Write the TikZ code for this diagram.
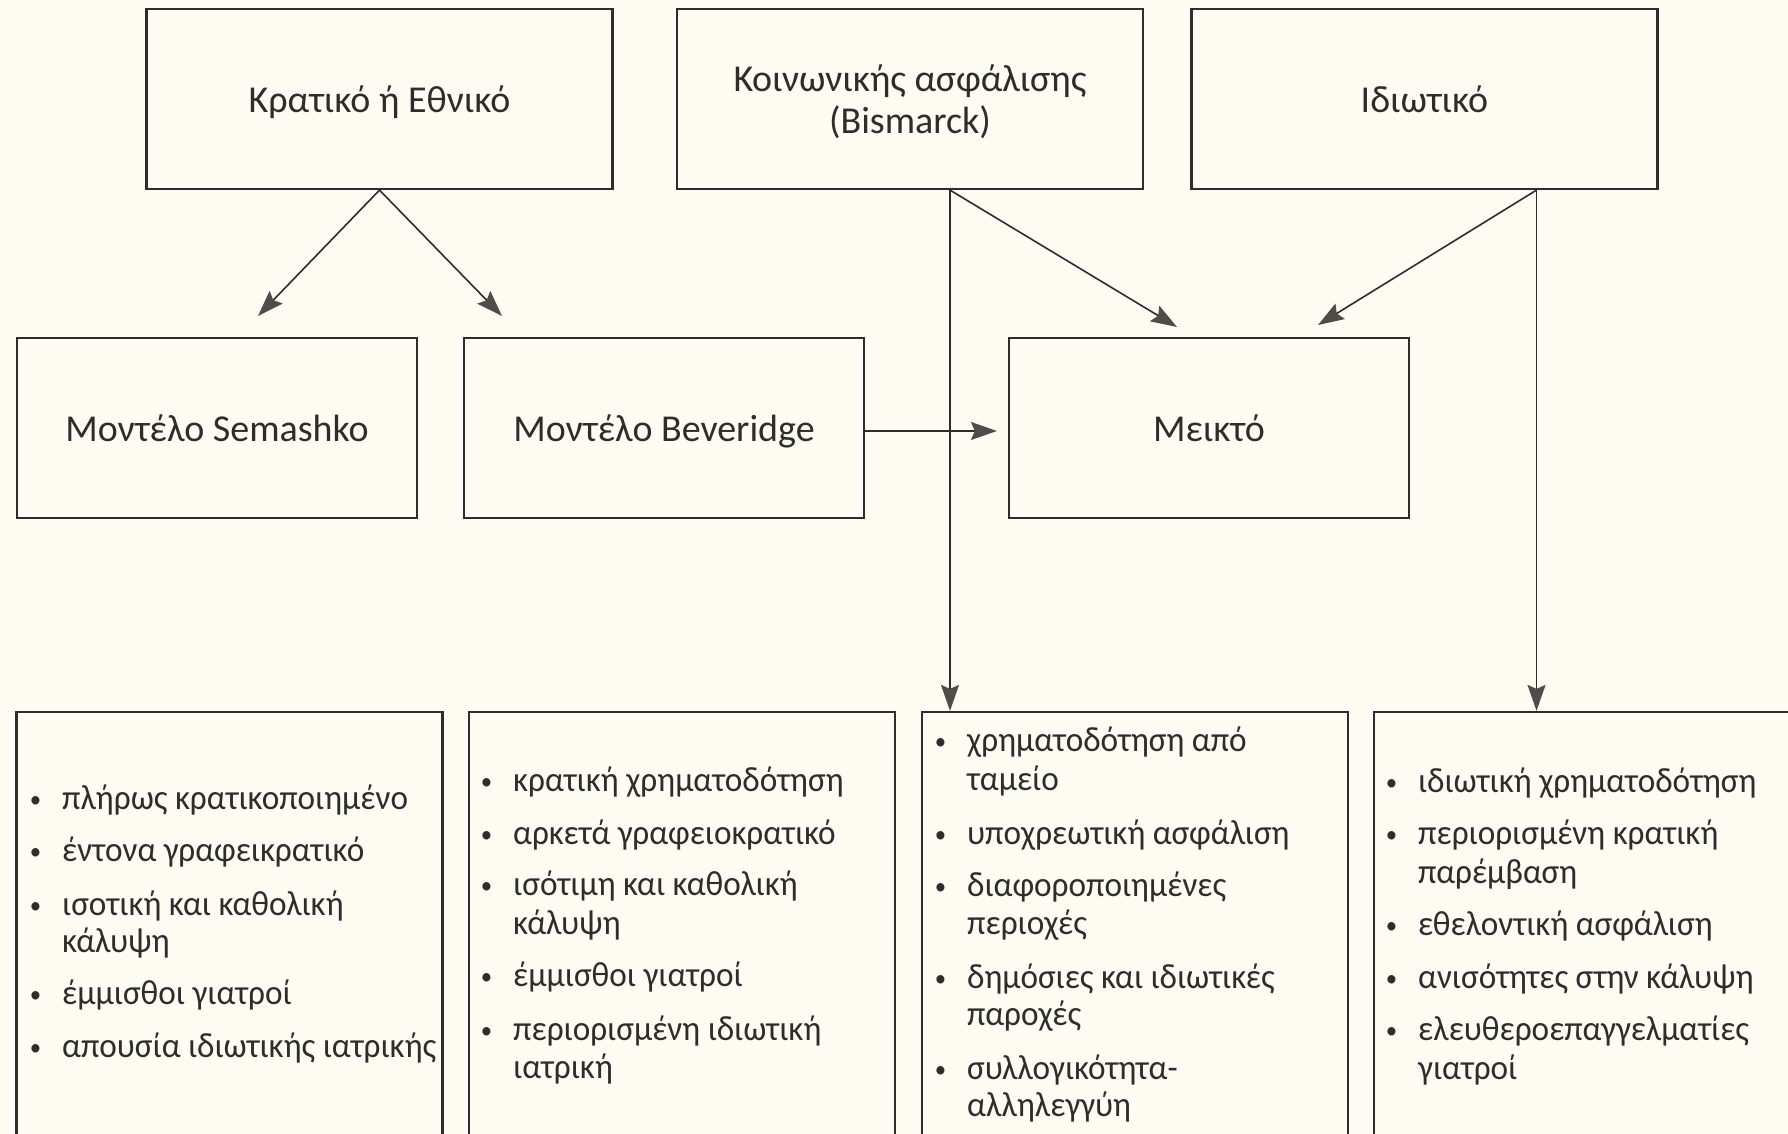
\documentclass[tikz,border=0pt]{standalone}
\usepackage{fontspec}
\setmainfont{Carlito}
\newfontfamily\listfont[FakeStretch=0.95]{Carlito}
\usetikzlibrary{arrows.meta,calc}
\definecolor{paper}{RGB}{252,252,242}
\definecolor{ink}{RGB}{45,45,45}
\definecolor{head}{RGB}{80,76,72}
\newcommand{\bul}{\llap{\raisebox{2pt}{\fontsize{24}{24}\selectfont •}\hspace{21pt}}}
\begin{document}
\begin{tikzpicture}[x=1pt,y=-1pt,
  box/.style={draw=ink,line width=2.2pt,fill=paper,inner sep=0pt,
    font=\fontsize{38}{42}\selectfont,text=ink,align=center,text depth=0pt},
  topbox/.style={box,minimum width=466pt,minimum height=180pt},
  midbox/.style={box,minimum width=400pt,minimum height=180pt},
  lowbox/.style={box,minimum width=426pt,minimum height=450pt},
  li/.style={anchor=base west,inner sep=0pt,font=\listfont\fontsize{35}{38}\selectfont,text=ink},
  arr/.style={draw=ink,line width=1.6pt,-{Stealth[length=26pt,width=18pt,inset=4pt,color=head]}},
]
\fill[paper] (0,0) rectangle (1788,1134);
\useasboundingbox (0,0) rectangle (1788,1134);

% top row
\node[topbox] (A) at (379.5,99) {Κρατικό ή Εθνικό};
\node[topbox] (B) at (910,99) {Κοινωνικής ασφάλισης\\(Bismarck)};
\node[topbox] (C) at (1424.5,99) {Ιδιωτικό};
% middle row
\node[midbox] (D) at (217,428) {Μοντέλο Semashko};
\node[midbox] (E) at (664,428) {Μοντέλο Beveridge};
\node[midbox] (F) at (1209,428) {Μεικτό};
% bottom row
\node[lowbox] (G) at (229.5,937) {};
\node[lowbox] (H) at (682,937) {};
\node[lowbox] (I) at (1135,937) {};
\node[lowbox] (J) at (1587,937) {};

% lists
\node[li] (g1) at (62,809) {\bul πλήρως κρατικοποιημένο};
\node[li] (g2) at (62,861) {\bul έντονα γραφεικρατικό};
\node[li] (g3) at (62,915) {\bul ισοτική και καθολική};
\node[li] (g4) at (62,952) {κάλυψη};
\node[li] (g5) at (62,1004) {\bul έμμισθοι γιατροί};
\node[li] (g6) at (62,1057) {\bul απουσία ιδιωτικής ιατρικής};

\node[li] (h1) at (513,791) {\bul κρατική χρηματοδότηση};
\node[li] (h2) at (513,844) {\bul αρκετά γραφειοκρατικό};
\node[li] (h3) at (513,895) {\bul ισότιμη και καθολική};
\node[li] (h4) at (513,934) {κάλυψη};
\node[li] (h5) at (513,986) {\bul έμμισθοι γιατροί};
\node[li] (h6) at (513,1040) {\bul περιορισμένη ιδιωτική};
\node[li] (h7) at (513,1078) {ιατρική};

\node[li] (i1) at (967,751) {\bul χρηματοδότηση από};
\node[li] (i2) at (967,790) {ταμείο};
\node[li] (i3) at (967,844) {\bul υποχρεωτική ασφάλιση};
\node[li] (i4) at (967,896) {\bul διαφοροποιημένες};
\node[li] (i5) at (967,934) {περιοχές};
\node[li] (i6) at (967,988) {\bul δημόσιες και ιδιωτικές};
\node[li] (i7) at (967,1025) {παροχές};
\node[li] (i8) at (967,1079) {\bul συλλογικότητα-};
\node[li] (i9) at (967,1116) {αλληλεγγύη};

\node[li] (j1) at (1418,792) {\bul ιδιωτική χρηματοδότηση};
\node[li] (j2) at (1418,844) {\bul περιορισμένη κρατική};
\node[li] (j3) at (1418,883) {παρέμβαση};
\node[li] (j4) at (1418,935) {\bul εθελοντική ασφάλιση};
\node[li] (j5) at (1418,988) {\bul ανισότητες στην κάλυψη};
\node[li] (j6) at (1418,1040) {\bul ελευθεροεπαγγελματίες};
\node[li] (j7) at (1418,1079) {γιατροί};

% connectors
\coordinate (tAD) at (258,316);
\coordinate (tAE) at (502,316);
\coordinate (bs) at ([xshift=40pt]B.south);
\coordinate (cs) at ([xshift=112pt]C.south);
\coordinate (tBF) at (1177,327);
\coordinate (tCF) at (1318,325);
\draw[arr] (A.south) -- (tAD);
\draw[arr] (A.south) -- (tAE);
\draw[arr] (bs) -- (tBF);
\draw[arr] (cs) -- (tCF);
\draw[arr] (bs) -- (bs |- I.north);
\draw[arr] (cs) -- (cs |- J.north);
\draw[arr] ([yshift=-3pt]E.east) -- ([xshift=-11pt,yshift=-3pt]F.west);
\end{tikzpicture}
\end{document}
